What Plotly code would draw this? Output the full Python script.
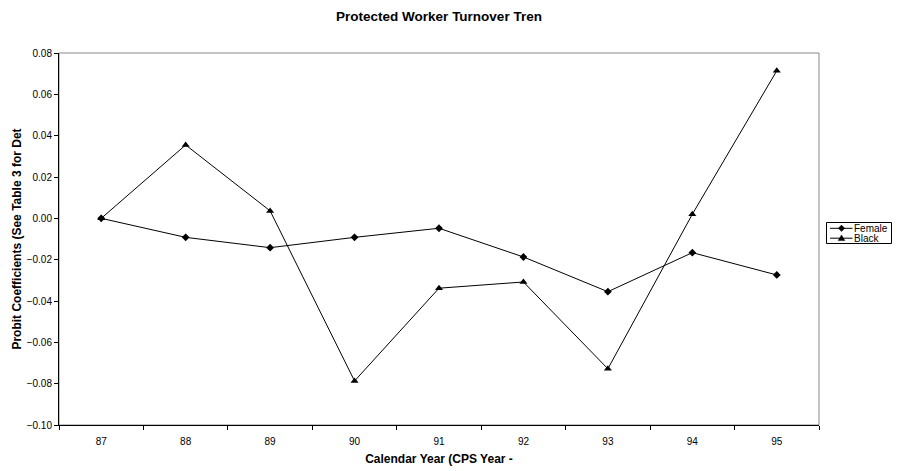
import plotly.graph_objects as go

# Calendar years (CPS year - 1)
years = ["87", "88", "89", "90", "91", "92", "93", "94", "95"]

# Probit coefficients by year
female = [0.000, -0.0092, -0.0142, -0.0092, -0.0048, -0.0187, -0.0355, -0.0166, -0.0274]
black = [0.000, 0.0355, 0.0036, -0.0787, -0.0338, -0.0308, -0.0728, 0.0020, 0.0714]

y_ticks = [-0.10, -0.08, -0.06, -0.04, -0.02, 0.00, 0.02, 0.04, 0.06, 0.08]

series_names = ["Female", "Black"]
series_symbols = ["diamond", "triangle-up"]

FONT = "Liberation Sans, Arial, sans-serif"
W, H = 897, 471
L, R, T, B = 59, 78, 53, 46
PW, PH = W - L - R, H - T - B


def px_x(px):
    return (px - L) / PW


def px_y(py):
    return (H - B - py) / PH


fig = go.Figure()
for name, vals, sym, sz in [("Female", female, "diamond", 6),
                            ("Black", black, "triangle-up", 7)]:
    fig.add_trace(go.Scatter(
        x=years, y=vals, name=name, mode="lines+markers",
        line=dict(color="black", width=1),
        marker=dict(symbol=sym, size=sz, color="black"),
        showlegend=False,
    ))

shapes = [
    # grey frame around the plot area (top and right edges)
    dict(type="rect", xref="paper", yref="paper", x0=0, x1=1, y0=0, y1=1,
         line=dict(color="#888888", width=1), layer="below"),
    # legend box
    dict(type="rect", xref="paper", yref="paper",
         x0=px_x(826.5), x1=px_x(891.5), y0=px_y(243.5), y1=px_y(222.5),
         line=dict(color="black", width=1), fillcolor="white"),
]
annotations = []

# compact legend: short key line, marker, then the series name
key_rows = [228.3, 238.2]
marker_paths = {
    "diamond": "M0,3.2 L3.2,0 L0,-3.2 L-3.2,0 Z",
    "triangle-up": "M-3.3,-2.4 L3.3,-2.4 L0,3.2 Z",
}
for name, sym, row in zip(series_names, series_symbols, key_rows):
    shapes.append(dict(type="line", xref="paper", yref="paper",
                       x0=px_x(830), x1=px_x(852.5), y0=px_y(row), y1=px_y(row),
                       line=dict(color="black", width=1)))
    shapes.append(dict(type="path", xref="paper", yref="paper",
                       xsizemode="pixel", ysizemode="pixel",
                       xanchor=px_x(841.5), yanchor=px_y(row),
                       path=marker_paths[sym],
                       fillcolor="black", line=dict(color="black", width=0.5)))
    annotations.append(dict(text=name, xref="paper", yref="paper",
                            x=px_x(853), y=px_y(row), xanchor="left",
                            yanchor="middle", showarrow=False, borderpad=0,
                            font=dict(family=FONT, size=10, color="black")))

fig.update_layout(
    width=W, height=H,
    margin=dict(l=L, r=R, t=T, b=B, autoexpand=False),
    paper_bgcolor="white", plot_bgcolor="white",
    font=dict(family=FONT, size=10, color="black"),
    title=dict(text="<b>Protected Worker Turnover Tren</b>",
               x=0.5, xref="paper", xanchor="center",
               y=1 - 16 / H, yanchor="middle",
               font=dict(family=FONT, size=13.5, color="black")),
    showlegend=False,
    shapes=shapes,
    annotations=annotations,
    xaxis=dict(
        type="category", range=[-0.5, 8.5],
        showline=True, linecolor="black", linewidth=1,
        ticks="outside", tickson="boundaries", ticklen=4, tickcolor="black",
        ticklabelstandoff=7,
        showgrid=False, zeroline=False,
        tickfont=dict(family=FONT, size=10, color="black"),
        title=dict(text="<b>Calendar Year (CPS Year -</b>", standoff=8,
                   font=dict(family=FONT, size=12, color="black")),
    ),
    yaxis=dict(
        range=[-0.10, 0.08], tickvals=y_ticks, tickformat=".2f",
        showline=True, linecolor="black", linewidth=1,
        ticks="outside", ticklen=4, tickcolor="black",
        showgrid=False, zeroline=False,
        tickfont=dict(family=FONT, size=10, color="black"),
        title=dict(text="<b>Probit Coefficients (See Table 3 for Det</b>", standoff=2,
                   font=dict(family=FONT, size=12, color="black")),
    ),
)

fig.write_html("out.html")
